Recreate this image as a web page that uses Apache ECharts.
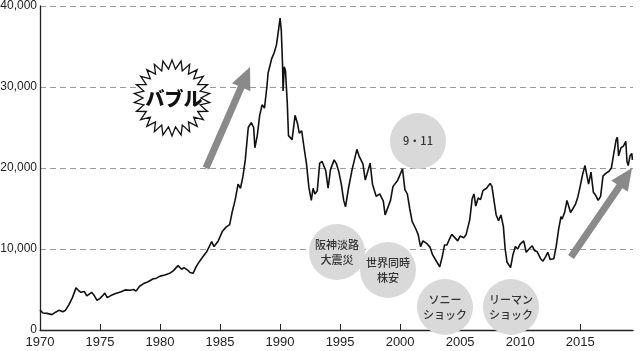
<!DOCTYPE html>
<html>
<head>
<meta charset="utf-8">
<script src="https://cdn.jsdelivr.net/npm/echarts@6/dist/echarts.min.js"></script>
<style>
  html, body { margin: 0; padding: 0; background: #fff; }
  #chart { width: 640px; height: 351px; }
</style>
</head>
<body>
<div id="chart"></div>
<script>
  // Nikkei 225 (decimal year, yen)
  const years = [
    1970.0, 1970.25, 1970.6, 1971.0, 1971.3, 1971.6, 1971.9, 1972.1, 1972.4, 1972.7,
    1973.0, 1973.2, 1973.4, 1973.7, 1973.9, 1974.3, 1974.5, 1974.75, 1975.0, 1975.25,
    1975.4, 1975.6, 1975.9, 1976.3, 1976.7, 1977.1, 1977.5, 1977.8, 1978.0, 1978.3,
    1978.6, 1979.0, 1979.4, 1979.7, 1980.0, 1980.4, 1980.8, 1981.1, 1981.5, 1981.8,
    1982.0, 1982.3, 1982.5, 1982.75, 1983.0, 1983.3, 1983.6, 1983.9, 1984.1, 1984.3,
    1984.5, 1984.85, 1985.2, 1985.5, 1985.8, 1986.0, 1986.25, 1986.5, 1986.7, 1986.9,
    1987.1, 1987.35, 1987.6, 1987.8, 1987.9, 1988.1, 1988.3, 1988.5, 1988.7, 1988.9,
    1989.0, 1989.3, 1989.5, 1989.7, 1989.85, 1990.0, 1990.1, 1990.2, 1990.25, 1990.35,
    1990.45, 1990.6, 1990.7, 1990.85, 1991.0, 1991.25, 1991.45, 1991.6, 1991.8, 1992.0,
    1992.2, 1992.4, 1992.6, 1992.75, 1992.9, 1993.1, 1993.3, 1993.5, 1993.8, 1994.0,
    1994.2, 1994.5, 1994.7, 1994.9, 1995.1, 1995.3, 1995.45, 1995.7, 1996.0, 1996.4,
    1996.6, 1996.9, 1997.1, 1997.5, 1997.7, 1998.0, 1998.3, 1998.6, 1998.75, 1998.9,
    1999.2, 1999.4, 1999.8, 2000.2, 2000.4, 2000.6, 2000.8, 2001.0, 2001.3, 2001.5,
    2001.7, 2001.9, 2002.2, 2002.5, 2002.7, 2002.9, 2003.1, 2003.3, 2003.5, 2003.7,
    2003.9, 2004.1, 2004.3, 2004.5, 2004.8, 2005.0, 2005.3, 2005.5, 2005.8, 2006.0,
    2006.15, 2006.3, 2006.5, 2006.7, 2006.9, 2007.2, 2007.5, 2007.65, 2007.8, 2008.0,
    2008.2, 2008.4, 2008.6, 2008.75, 2008.9, 2009.2, 2009.4, 2009.6, 2009.8, 2010.0,
    2010.3, 2010.5, 2010.8, 2011.0, 2011.2, 2011.4, 2011.7, 2011.9, 2012.1, 2012.3,
    2012.5, 2012.8, 2013.0, 2013.2, 2013.4, 2013.5, 2013.7, 2013.9, 2014.2, 2014.4,
    2014.6, 2014.8, 2014.95, 2015.2, 2015.4, 2015.55, 2015.7, 2015.9, 2016.1, 2016.3,
    2016.5, 2016.7, 2016.9, 2017.1, 2017.4, 2017.6, 2017.8, 2018.0, 2018.1, 2018.2,
    2018.4, 2018.6, 2018.8, 2018.9, 2019.0, 2019.15, 2019.3, 2019.35
  ]
  const nikkei = [
    2450, 2100, 2050, 1900, 2200, 2450, 2250, 2400, 3100, 4000,
    5200, 4900, 4650, 4750, 4200, 4650, 4300, 3650, 3900, 4300,
    4550, 4000, 4250, 4500, 4700, 4950, 4900, 5000, 4800, 5400,
    5700, 5950, 6300, 6400, 6650, 6800, 7000, 7300, 7950, 7500,
    7700, 7400, 7100, 7000, 7800, 8500, 9100, 9700, 10300, 10900,
    10300, 11000, 12200, 12700, 13000, 14500, 16000, 18000, 17500, 18900,
    21000, 25000, 25600, 25000, 22500, 24000, 26500, 27800, 27400, 30000,
    31700, 33500, 34200, 35200, 36800, 38500, 37000, 33000, 29500, 32500,
    32000, 28000, 24000, 23800, 23500, 26500, 25500, 24300, 24600, 22500,
    20500, 17600, 16000, 17500, 16800, 17200, 20600, 20800, 19700, 17500,
    19800, 21000, 20500, 19500, 18000, 16000, 15200, 17500, 19800, 22300,
    21400, 20500, 18500, 20600, 18000, 16500, 16800, 15900, 14200, 14800,
    16000, 17700, 18500, 19900, 17300, 16800, 15000, 13400, 12500, 11800,
    10300, 11000, 10700, 10200, 9300, 8800, 8300, 7800, 9000, 10500,
    10500, 11200, 11800, 11500, 11000, 11600, 11400, 11800, 13600, 16200,
    16800, 15300, 16300, 16100, 17200, 17500, 18100, 17700, 16200, 14200,
    13500, 14200, 12800, 10000, 8400, 7700, 9300, 10300, 10000, 10600,
    11000, 9600, 10100, 10400, 9800, 9700, 8800, 8500, 9000, 9600,
    8700, 8800, 10300, 12400, 14000, 13700, 14500, 16000, 14500, 15000,
    15500, 16400, 17400, 19200, 20300, 20500, 18000, 19500, 17000, 16600,
    16000, 16500, 19000, 19300, 19600, 20000, 21800, 23500, 23800, 21500,
    22500, 22700, 23300, 20800, 20300, 21500, 21800, 21000
  ]
  const xLabelYears = [1970, 1975, 1980, 1985, 1990, 1995, 2000, 2005, 2010, 2015]
  const xTickYears = [1975, 1980, 1985, 1990, 1995, 2000, 2005, 2010, 2015]
  const events = [
    { text: '9・11', x: 418, y: 141 },
    { text: '阪神淡路\n大震災', x: 337, y: 252 },
    { text: '世界同時\n株安', x: 388, y: 270 },
    { text: 'ソニー\nショック', x: 445, y: 307 },
    { text: 'リーマン\nショック', x: 511, y: 307 }
  ]

  const axisFont = "'Liberation Sans', sans-serif"
  const jpFont = "'Noto Sans CJK JP', sans-serif"

  function arrowPoints (x1, y1, x2, y2) {
    const dx = x2 - x1
    const dy = y2 - y1
    const len = Math.sqrt(dx * dx + dy * dy)
    const ux = dx / len
    const uy = dy / len
    const nx = -uy
    const ny = ux
    const shaft = 3.5
    const head = 10
    const headLen = 22
    const bx = x2 - ux * headLen
    const by = y2 - uy * headLen
    return [
      [x1 + nx * shaft, y1 + ny * shaft],
      [bx + nx * shaft, by + ny * shaft],
      [bx + nx * head, by + ny * head],
      [x2, y2],
      [bx - nx * head, by - ny * head],
      [bx - nx * shaft, by - ny * shaft],
      [x1 - nx * shaft, y1 - ny * shaft]
    ]
  }

  function starPoints (cx, cy, rOut, rIn, n) {
    const pts = []
    for (let i = 0; i < n * 2; i++) {
      const r = i % 2 === 0 ? rOut : rIn
      const a = Math.PI * i / n - Math.PI / 2
      pts.push([cx + r * Math.cos(a), cy + r * Math.sin(a)])
    }
    return pts
  }

  const graphics = [
    {
      type: 'polygon',
      shape: { points: starPoints(172, 98, 38, 29, 26) },
      style: { fill: '#fff', stroke: '#111', lineWidth: 1.3 },
      z: 10
    },
    {
      type: 'text',
      x: 174,
      y: 99,
      style: {
        text: 'バブル',
        font: "900 19px " + jpFont,
        fill: '#111',
        align: 'center',
        verticalAlign: 'middle'
      },
      z: 11
    },
    {
      type: 'polygon',
      shape: { points: arrowPoints(206, 168, 250, 67) },
      style: { fill: '#8a8a8a' },
      z: 10
    },
    {
      type: 'polygon',
      shape: { points: arrowPoints(571, 257, 632, 168) },
      style: { fill: '#8a8a8a' },
      z: 10
    }
  ]
  events.forEach(function (e) {
    graphics.push({
      type: 'circle',
      shape: { cx: e.x, cy: e.y, r: 28 },
      style: { fill: '#d9d9d9' },
      z: 10
    })
    graphics.push({
      type: 'text',
      x: e.x,
      y: e.y,
      style: {
        text: e.text,
        font: "500 11px " + jpFont,
        fill: '#333',
        align: 'center',
        verticalAlign: 'middle',
        lineHeight: 15
      },
      z: 11
    })
  })

  const chart = echarts.init(document.getElementById('chart'))
  chart.setOption({
    animation: false,
    grid: {
      left: 40,
      right: 7,
      top: 6,
      bottom: 21,
      containLabel: false,
      outerBoundsMode: 'none'
    },
    xAxis: {
      type: 'value',
      min: 1970,
      max: 2019.4,
      interval: 5,
      splitLine: { show: false },
      axisLine: { lineStyle: { color: '#222', width: 1.3 } },
      axisTick: {
        inside: true,
        length: 6,
        customValues: xTickYears,
        lineStyle: { color: '#222', width: 1 }
      },
      axisLabel: {
        customValues: xLabelYears,
        formatter: function (v) { return String(v) },
        color: '#222',
        fontSize: 13,
        fontFamily: axisFont,
        margin: 6
      }
    },
    yAxis: {
      type: 'value',
      min: 0,
      max: 40000,
      interval: 10000,
      axisLine: { show: true, lineStyle: { color: '#222', width: 1.3 } },
      axisTick: { show: false },
      axisLabel: {
        formatter: function (v) { return v.toLocaleString('en-US') },
        color: '#222',
        fontSize: 12,
        fontFamily: axisFont,
        margin: 3
      },
      splitLine: {
        lineStyle: { color: '#9a9a9a', type: [6, 4], width: 1 }
      }
    },
    series: [
      {
        type: 'line',
        data: years.map(function (y, i) { return [y, nikkei[i]] }),
        symbol: 'none',
        lineStyle: { color: '#111', width: 1.6 },
        z: 3
      }
    ],
    graphic: graphics
  })
</script>
</body>
</html>
